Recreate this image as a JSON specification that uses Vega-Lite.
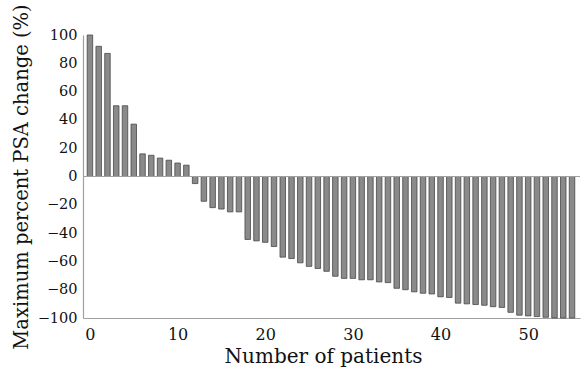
{
  "$schema": "https://vega.github.io/schema/vega-lite/v6.json",
  "width": 497,
  "height": 283,
  "autosize": {"type": "none"},
  "padding": {"left": 83, "top": 35, "right": 2, "bottom": 52},
  "background": "white",
  "config": {
    "view": {"stroke": null},
    "font": "DejaVu Serif",
    "axis": {"labelOverlap": false, "labelFlush": false},
    "axisY": {"labelOverlap": false},
    "axisQuantitative": {"labelOverlap": false}
  },
  "data": {
    "values": [
      {"patient": 0, "change": 100},
      {"patient": 1, "change": 92},
      {"patient": 2, "change": 87},
      {"patient": 3, "change": 50},
      {"patient": 4, "change": 50},
      {"patient": 5, "change": 37},
      {"patient": 6, "change": 16},
      {"patient": 7, "change": 15},
      {"patient": 8, "change": 13},
      {"patient": 9, "change": 11.5},
      {"patient": 10, "change": 9.5},
      {"patient": 11, "change": 8},
      {"patient": 12, "change": -5},
      {"patient": 13, "change": -17.5},
      {"patient": 14, "change": -22},
      {"patient": 15, "change": -23},
      {"patient": 16, "change": -25},
      {"patient": 17, "change": -25},
      {"patient": 18, "change": -44.5},
      {"patient": 19, "change": -45.5},
      {"patient": 20, "change": -46.5},
      {"patient": 21, "change": -49.5},
      {"patient": 22, "change": -57},
      {"patient": 23, "change": -58},
      {"patient": 24, "change": -61},
      {"patient": 25, "change": -63.5},
      {"patient": 26, "change": -65},
      {"patient": 27, "change": -67},
      {"patient": 28, "change": -70.5},
      {"patient": 29, "change": -72},
      {"patient": 30, "change": -72},
      {"patient": 31, "change": -73},
      {"patient": 32, "change": -73},
      {"patient": 33, "change": -74.5},
      {"patient": 34, "change": -75},
      {"patient": 35, "change": -79},
      {"patient": 36, "change": -80},
      {"patient": 37, "change": -81.5},
      {"patient": 38, "change": -82.5},
      {"patient": 39, "change": -83},
      {"patient": 40, "change": -85},
      {"patient": 41, "change": -85.5},
      {"patient": 42, "change": -89.5},
      {"patient": 43, "change": -90},
      {"patient": 44, "change": -90.5},
      {"patient": 45, "change": -91},
      {"patient": 46, "change": -92},
      {"patient": 47, "change": -92.5},
      {"patient": 48, "change": -96},
      {"patient": 49, "change": -98},
      {"patient": 50, "change": -98.5},
      {"patient": 51, "change": -99},
      {"patient": 52, "change": -99.5},
      {"patient": 53, "change": -100},
      {"patient": 54, "change": -100},
      {"patient": 55, "change": -100}
    ]
  },
  "layer": [
    {
      "mark": {"type": "bar", "width": 5.5, "fill": "#8a8a8a", "stroke": "#474747", "strokeWidth": 0.8},
      "encoding": {
        "x": {
          "field": "patient",
          "type": "quantitative",
          "scale": {"domain": [-0.22, 55.34], "nice": false, "zero": false},
          "axis": {
            "values": [0, 10, 20, 30, 40, 50],
            "title": "Number of patients",
            "titleFont": "DejaVu Serif",
            "titleFontWeight": "normal",
            "titleFontSize": 20,
            "titleColor": "#111",
            "titlePadding": 4,
            "titleX": 240,
            "titleAlign": "center",
            "labelFont": "DejaVu Serif",
            "labelFontSize": 16,
            "labelColor": "#111",
            "labelPadding": 8,
            "ticks": false,
            "grid": false,
            "domainColor": "#a0a0a0",
            "domainWidth": 1.2
          }
        },
        "y": {
          "field": "change",
          "type": "quantitative",
          "scale": {"domain": [-100, 100], "nice": false},
          "axis": {
            "tickCount": 10,
            "title": "Maximum percent PSA change (%)",
            "titleFont": "DejaVu Serif",
            "titleFontWeight": "normal",
            "titleFontSize": 19.5,
            "titleColor": "#111",
            "titlePadding": 6,
            "labelFont": "DejaVu Serif",
            "labelFontSize": 14.5,
            "labelColor": "#111",
            "labelPadding": 6,
            "labelOverlap": false,
            "labelSeparation": 0,
            "ticks": false,
            "grid": false,
            "domainColor": "#a0a0a0",
            "domainWidth": 1.2
          }
        },
        "y2": {"datum": 0}
      }
    },
    {
      "mark": {"type": "rule", "color": "#a0a0a0", "strokeWidth": 1.2},
      "encoding": {"y": {"datum": 0, "type": "quantitative"}}
    }
  ]
}
